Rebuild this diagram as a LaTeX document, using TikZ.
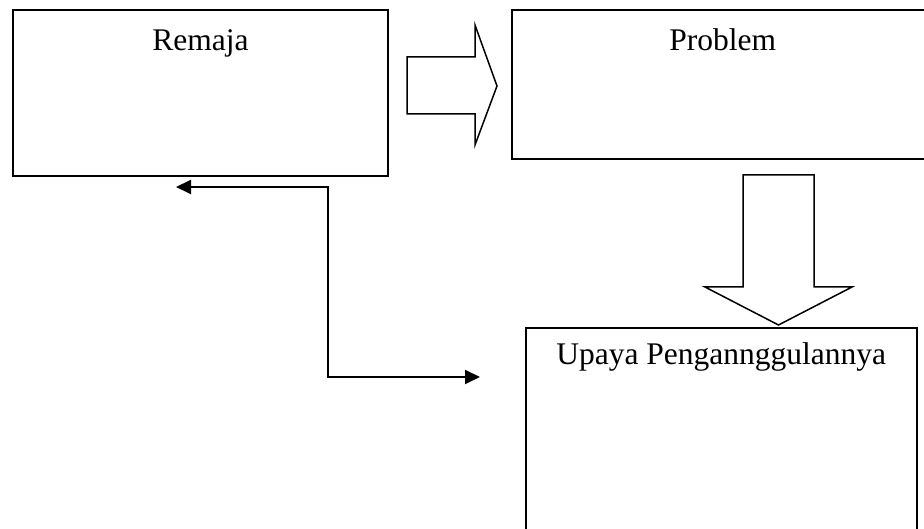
\documentclass[tikz,border=0pt]{standalone}
\usepackage{fontspec}
\setmainfont{Liberation Serif}
\usetikzlibrary{positioning, arrows.meta, calc}

\begin{document}
\begin{tikzpicture}[
    x=1pt, y=-1pt, % one unit per pixel, y downwards
    % Styles
    box/.style={ % Rectangle with its title at the top
        rectangle,
        draw,
        line width=1.8pt,
        inner sep=0pt,
        font=\fontsize{31.5}{38}\selectfont
    },
    blockarrow/.style={ % Hollow block arrows
        draw,
        line width=1.5pt,
        line join=miter
    },
    link/.style={ % Elbow connector with two heads
        {Triangle[length=15pt,width=14pt]}-{Triangle[length=15pt,width=14pt]},
        line width=2pt
    }
]
    \useasboundingbox (0,0) rectangle (924,529);
    \clip (0,0) rectangle (924,529);

    % Boxes
    \node[box, minimum width=375pt, text height=41pt, text depth=125pt, anchor=north west] (remaja) at (12,9) {Remaja};
    \node[box, minimum width=422pt, text height=41pt, text depth=108pt] (problem) [below right=0pt and 122pt of remaja.north east] {Problem};
    \node[box, minimum width=391pt, text height=37pt, text depth=200pt] (upaya) [below right=167pt and 14pt of problem.south west] {Upaya Pengannggulannya};

    % Block arrows
    \draw[blockarrow] (407,57) -- (475,57) -- (475,25) -- (497,86) -- (475,145) -- (475,114) -- (407,114) -- cycle;
    \draw[blockarrow] (743,175) -- (814,175) -- (814,287) -- (852,287) -- (778.5,325) -- (705,287) -- (743,287) -- cycle;

    % Elbow connector
    \coordinate (back) at (176,187);
    \coordinate (forth) at (480,377);
    \draw[link] (back) -| ($(back)!0.5!(forth)$) |- (forth);
\end{tikzpicture}
\end{document}
